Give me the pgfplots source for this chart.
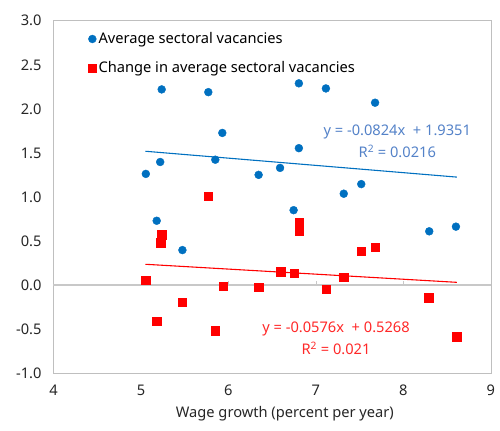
\documentclass[border=0pt]{standalone}
\usepackage{pgfplots}
\pgfplotsset{compat=1.18}
\usepackage{fontspec}
\setmainfont{Noto Sans}
\definecolor{bluept}{RGB}{0,112,192}
\definecolor{blueeq}{RGB}{84,130,200}
\definecolor{redpt}{RGB}{255,0,0}
\definecolor{redeq}{RGB}{255,40,40}
\definecolor{framegray}{RGB}{191,191,191}
\definecolor{zerogray}{RGB}{200,200,200}
\definecolor{textgray}{RGB}{38,38,38}
\newcommand{\cf}{\fontsize{14.8bp}{17bp}\selectfont}
\begin{document}
\cf
\begin{tikzpicture}
\begin{axis}[
  scale only axis,
  width=442bp, height=356bp,
  xmin=4, xmax=9, ymin=-1, ymax=3,
  xtick={4,5,6,7,8,9},
  ytick={-1,-0.5,0,0.5,1,1.5,2,2.5,3},
  major tick length=0pt,
  axis line style={framegray, line width=0.8bp},
  /pgf/number format/assume math mode=true,
  yticklabel style={/pgf/number format/fixed, /pgf/number format/fixed zerofill, /pgf/number format/precision=1, font=\cf, text=textgray, xshift=-7bp},
  xticklabel style={font=\cf, text=textgray, yshift=-7bp},
  xlabel={Wage growth (percent per year)},
  xlabel style={font=\cf, text=textgray, at={(axis description cs:0.529,0)}, anchor=north, yshift=-28bp},
  clip=false,
  legend style={draw=none, fill=none, at={(rel axis cs:0.072,0.979)}, anchor=north west,
    font=\cf, text=black, row sep=12bp},
  legend cell align=left,
]
\draw[zerogray, line width=1.6bp] (axis cs:4,0) -- (axis cs:9,0);
\pgfplotsinvokeforeach{5,6,7,8}{\draw[zerogray, line width=0.8bp] (axis cs:#1,0) -- (axis cs:#1,0.05);}
\addplot[only marks, mark=*, mark size=4bp, mark options={fill=bluept, draw=bluept}] table {
x y
5.056 1.262
5.22 1.397
5.237 2.221
5.77 2.19
5.93 1.727
6.805 2.29
7.114 2.232
7.676 2.07
6.805 1.554
5.85 1.423
6.345 1.251
6.59 1.33
7.318 1.037
7.518 1.146
6.745 0.85
5.18 0.73
5.474 0.397
8.295 0.61
8.60 0.663
};
\addlegendentry{Average sectoral vacancies}
\addplot[only marks, mark=square*, mark size=4.3bp, mark options={fill=redpt, draw=redpt}] table {
x y
5.77 1.008
6.81 0.716
6.81 0.615
5.237 0.57
5.225 0.483
7.52 0.382
7.68 0.427
6.595 0.154
6.75 0.135
7.315 0.09
5.052 0.053
5.94 -0.015
6.345 -0.026
7.115 -0.048
8.29 -0.146
5.474 -0.195
5.18 -0.408
5.85 -0.517
8.61 -0.588
};
\addlegendentry{Change in average sectoral vacancies}
\addplot[bluept, line width=1.1bp, forget plot] coordinates {(5.052,1.5188) (8.61,1.2256)};
\addplot[redpt, line width=1.1bp, forget plot] coordinates {(5.052,0.2358) (8.61,0.0309)};
\node[text=blueeq, font=\cf] at (axis cs:7.93,1.735) {y = -0.0824x\ \ + 1.9351};
\node[text=blueeq, font=\cf] at (axis cs:7.93,1.52) {R\textsuperscript{2} = 0.0216};
\node[text=redeq, font=\cf] at (axis cs:7.23,-0.50) {y = -0.0576x\ \ + 0.5268};
\node[text=redeq, font=\cf] at (axis cs:7.23,-0.72) {R\textsuperscript{2} = 0.021};
\coordinate (bbsw) at (rel axis cs:0,0);
\coordinate (bbne) at (rel axis cs:1,1);
\end{axis}
\path ([shift={(-54bp,-58bp)}]bbsw) rectangle ([shift={(4bp,21bp)}]bbne);
\end{tikzpicture}
\end{document}
